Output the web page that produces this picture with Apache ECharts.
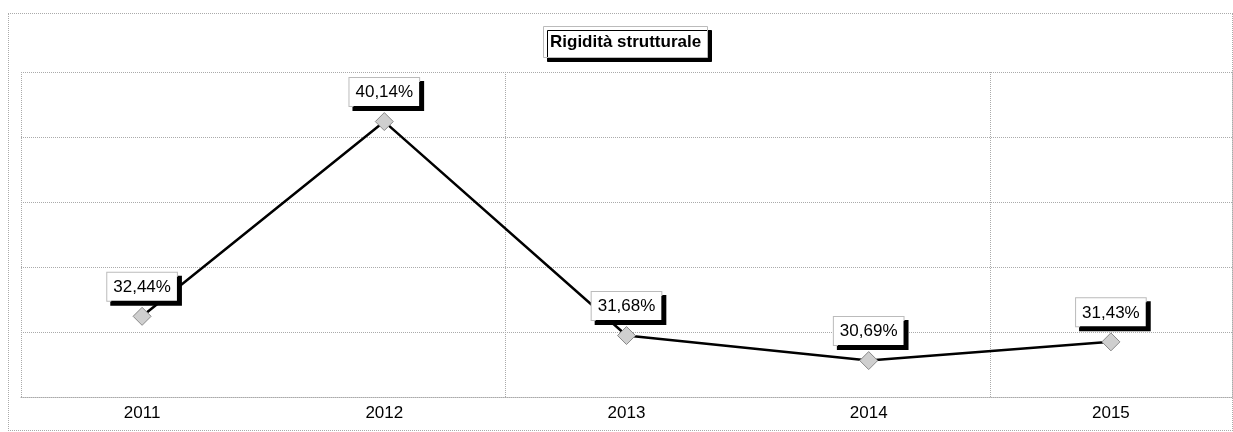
<!DOCTYPE html>
<html>
<head>
<meta charset="utf-8">
<script src="https://cdn.jsdelivr.net/npm/echarts@6/dist/echarts.min.js"></script>
<style>
  body { margin: 0; background: #fff; }
  #frame { position: absolute; left: 8px; top: 13px; width: 1223px; height: 416px; border: 1px dotted #aaa; }
  #chart { position: absolute; left: 0; top: 0; width: 1233px; height: 432px; }
</style>
</head>
<body>
<div id="frame"></div>
<div id="chart"></div>
<script>
// dati
var anni = ['2011', '2012', '2013', '2014', '2015'];
var rigidita = [32.44, 40.14, 31.68, 30.69, 31.43];
var titolo = 'Rigidità strutturale';

var font = "'Liberation Sans', Arial, sans-serif";
var gridColor = '#aaa';

function fmt(v) {
  return v.toFixed(2).replace('.', ',') + '%';
}

var myChart = echarts.init(document.getElementById('chart'));

var option = {
  animation: false,
  title: {
    text: titolo,
    left: 543,
    top: 26,
    padding: [8, 7, 7, 7],
    backgroundColor: '#fff',
    borderColor: '#bbb',
    borderWidth: 1,
    shadowColor: '#000',
    shadowBlur: 0,
    shadowOffsetX: 4,
    shadowOffsetY: 4,
    textStyle: { fontFamily: font, fontSize: 17, fontWeight: 'bold', color: '#000' }
  },
  grid: { left: 21, right: 1, top: 72, bottom: 35 },
  xAxis: {
    type: 'category',
    data: anni,
    boundaryGap: true,
    axisTick: { show: false },
    axisLine: { show: true, lineStyle: { color: gridColor, type: 'dotted', width: 1 } },
    axisLabel: { fontFamily: font, fontSize: 17, color: '#000', margin: 8 },
    splitLine: { show: true, interval: 1, lineStyle: { color: gridColor, type: 'dotted', width: 1 } }
  },
  yAxis: [
    {
      // scala dei valori (nascosta)
      type: 'value',
      min: 29.25,
      max: 42.10,
      show: false
    },
    {
      // griglia orizzontale
      type: 'value',
      min: 0,
      max: 5,
      interval: 1,
      position: 'right',
      axisLabel: { show: false },
      axisTick: { show: false },
      axisLine: { show: true, lineStyle: { color: gridColor, type: 'dotted', width: 1 } },
      splitLine: { show: true, lineStyle: { color: gridColor, type: 'dotted', width: 1 } }
    }
  ],
  series: [
    {
      name: titolo,
      type: 'line',
      yAxisIndex: 0,
      data: rigidita,
      symbol: 'diamond',
      symbolSize: 18,
      lineStyle: { color: '#000', width: 2.5 },
      itemStyle: { color: '#cfcfcf', borderColor: '#888', borderWidth: 1 },
      label: {
        show: true,
        position: 'top',
        distance: 6,
        formatter: function (p) { return fmt(p.value); },
        fontFamily: font,
        fontSize: 17,
        color: '#000',
        backgroundColor: '#fff',
        borderColor: '#bbb',
        borderWidth: 1,
        padding: [6, 6, 5, 6],
        shadowColor: '#000',
        shadowBlur: 0,
        shadowOffsetX: 4,
        shadowOffsetY: 4
      },
      z: 3
    }
  ]
};

myChart.setOption(option);
</script>
</body>
</html>
